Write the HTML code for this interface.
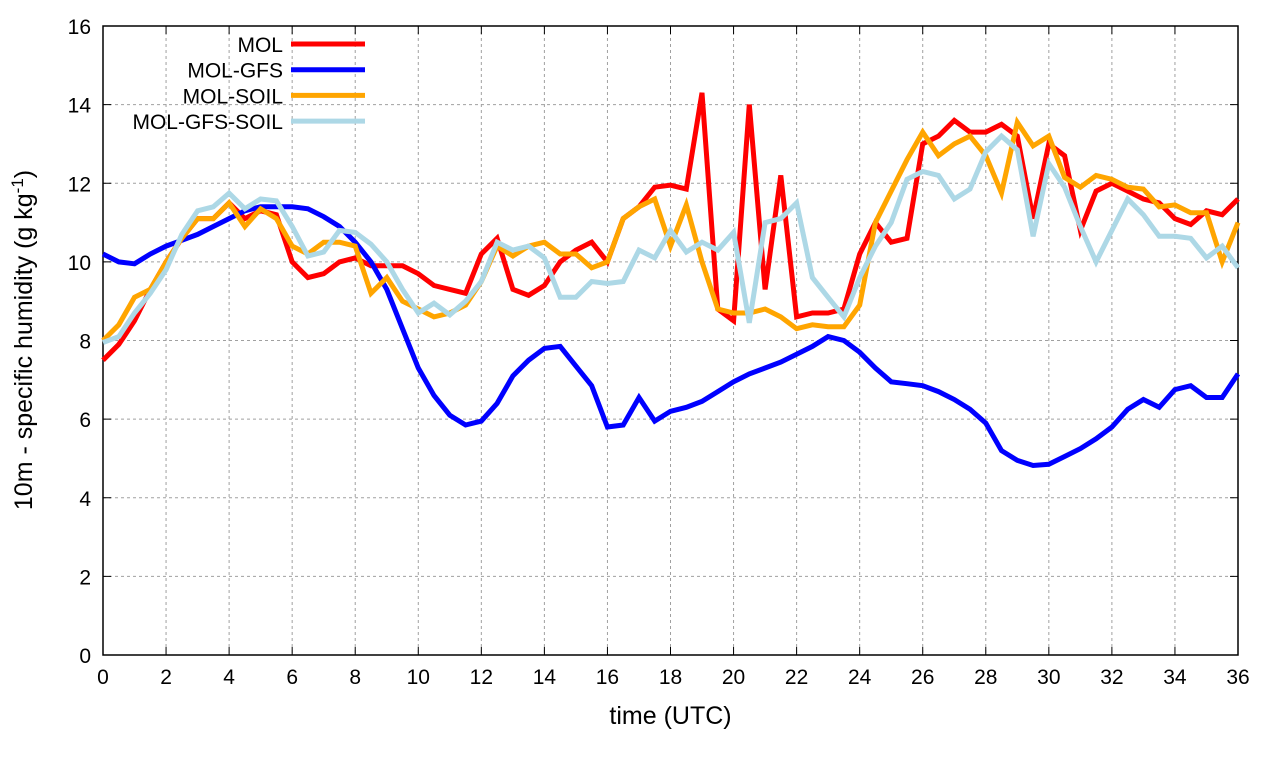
<!DOCTYPE html>
<html><head><meta charset="utf-8"><style>
body{margin:0;background:#fff;}
svg text{font-family:"Liberation Sans",sans-serif;}
</style></head><body>
<svg id="chart" width="1280" height="760"></svg>
<script>
const times=[];for(let i=0;i<=72;i++)times.push(i*0.5);
const xTicks=[0,2,4,6,8,10,12,14,16,18,20,22,24,26,28,30,32,34,36];
const yTicks=[0,2,4,6,8,10,12,14,16];
const molValues=[7.5,7.9,8.5,9.3,10.0,10.6,11.1,11.1,11.5,11.1,11.3,11.2,10.0,9.6,9.7,10.0,10.1,9.9,9.9,9.9,9.7,9.4,9.3,9.2,10.2,10.6,9.3,9.15,9.4,10.0,10.3,10.5,10.0,11.1,11.4,11.9,11.95,11.85,14.3,8.8,8.5,14.0,9.3,12.2,8.6,8.7,8.7,8.8,10.2,11.0,10.5,10.6,13.0,13.2,13.6,13.3,13.3,13.5,13.2,11.1,13.0,12.7,10.8,11.8,12.0,11.8,11.6,11.5,11.1,10.95,11.3,11.2,11.6];
const gfsValues=[10.2,10.0,9.95,10.2,10.4,10.55,10.7,10.9,11.1,11.3,11.4,11.4,11.4,11.35,11.15,10.9,10.5,10.0,9.3,8.3,7.3,6.6,6.1,5.85,5.95,6.4,7.1,7.5,7.8,7.85,7.35,6.85,5.8,5.85,6.55,5.95,6.2,6.3,6.45,6.7,6.95,7.15,7.3,7.45,7.65,7.85,8.1,8.0,7.7,7.3,6.95,6.9,6.85,6.7,6.5,6.25,5.9,5.2,4.95,4.82,4.85,5.05,5.25,5.5,5.8,6.25,6.5,6.3,6.75,6.85,6.55,6.55,7.15];
const soilValues=[8.0,8.4,9.1,9.3,10.0,10.6,11.1,11.1,11.5,10.9,11.35,11.1,10.4,10.2,10.5,10.5,10.4,9.2,9.6,9.0,8.8,8.6,8.7,8.9,9.5,10.4,10.15,10.4,10.5,10.2,10.2,9.85,10.0,11.1,11.4,11.6,10.4,11.45,10.0,8.8,8.7,8.7,8.8,8.6,8.3,8.4,8.35,8.35,8.9,11.0,11.8,12.6,13.3,12.7,13.0,13.2,12.7,11.75,13.55,12.95,13.2,12.15,11.9,12.2,12.1,11.9,11.85,11.4,11.45,11.25,11.25,10.0,11.0];
const gfsSoilValues=[7.95,8.1,8.7,9.2,9.8,10.7,11.3,11.4,11.75,11.35,11.6,11.55,10.9,10.15,10.25,10.8,10.75,10.45,10.0,9.3,8.7,8.95,8.65,9.0,9.5,10.5,10.3,10.4,10.1,9.1,9.1,9.5,9.45,9.5,10.3,10.1,10.8,10.25,10.5,10.3,10.75,8.45,11.0,11.1,11.5,9.6,9.1,8.6,9.6,10.4,11.0,12.1,12.3,12.2,11.6,11.85,12.8,13.2,12.85,10.65,12.5,11.9,10.9,10.0,10.8,11.6,11.2,10.65,10.65,10.6,10.1,10.4,9.85];
const seriesNames=["MOL","MOL-GFS","MOL-SOIL","MOL-GFS-SOIL"];
const seriesColors=["#ff0000","#0000ff","#ffa500","#add8e6"];
const seriesData=[molValues,gfsValues,soilValues,gfsSoilValues];

const NS="http://www.w3.org/2000/svg";
const svg=document.getElementById('chart');
const L=103,R=1238,T=26,B=655;
const xs=t=>L+(t/36)*(R-L);
const ys=v=>B-(v/16)*(B-T);
function mk(tag,attrs,parent){const e=document.createElementNS(NS,tag);for(const k in attrs)e.setAttribute(k,attrs[k]);(parent||svg).appendChild(e);return e;}

const grid=mk('g',{});


xTicks.forEach(t=>{
  if(t>0&&t<36){const l=mk('line',{x1:xs(t),x2:xs(t),y1:T,y2:B,stroke:'#a0a0a0','stroke-width':1,'stroke-dasharray':'3,3'},grid);
  
  }
  const tk=mk('line',{x1:xs(t),x2:xs(t),y1:B,y2:B-8,stroke:'#000'});
  const tk2=mk('line',{x1:xs(t),x2:xs(t),y1:T,y2:T+8,stroke:'#000'});
  const tx=mk('text',{x:xs(t),y:B+29,'text-anchor':'middle','font-size':21});tx.textContent=t;
  
  
});
yTicks.forEach(v=>{
  if(v>0&&v<16){const l=mk('line',{x1:L,x2:R,y1:ys(v),y2:ys(v),stroke:'#a0a0a0','stroke-width':1,'stroke-dasharray':'3,3'},grid);
  
  }
  const tk=mk('line',{x1:L,x2:L+8,y1:ys(v),y2:ys(v),stroke:'#000'});
  const tk2=mk('line',{x1:R,x2:R-8,y1:ys(v),y2:ys(v),stroke:'#000'});
  const tx=mk('text',{x:L-12,y:ys(v)+8,'text-anchor':'end','font-size':21});tx.textContent=v;
  
  
});
const frame=mk('rect',{x:L,y:T,width:R-L,height:B-T,fill:'none',stroke:'#000','stroke-width':1.5});



seriesData.forEach((d,i)=>{
  const pts=d.map((v,j)=>xs(times[j]).toFixed(1)+','+ys(v).toFixed(1)).join(' ');
  const p=mk('polyline',{points:pts,fill:'none',stroke:seriesColors[i],'stroke-width':5,'stroke-linejoin':'miter'});
  
  
  const ly=44+i*25.7;
  const lt=mk('text',{x:283,y:ly+8,'text-anchor':'end','font-size':21});lt.textContent=seriesNames[i];
  
  
  const ll=mk('line',{x1:291,x2:365,y1:ly,y2:ly,stroke:seriesColors[i],'stroke-width':5});
  
  
});

const xt=mk('text',{x:(L+R)/2,y:724,'text-anchor':'middle','font-size':25});xt.textContent='time (UTC)';


const yt=mk('text',{x:0,y:0,'text-anchor':'middle','font-size':25,transform:'translate(32,340) rotate(-90)'});
yt.innerHTML='10m - specific humidity (g kg<tspan dy="-9" font-size="17">-1</tspan><tspan dy="9">)</tspan>';


</script>
</body></html>
